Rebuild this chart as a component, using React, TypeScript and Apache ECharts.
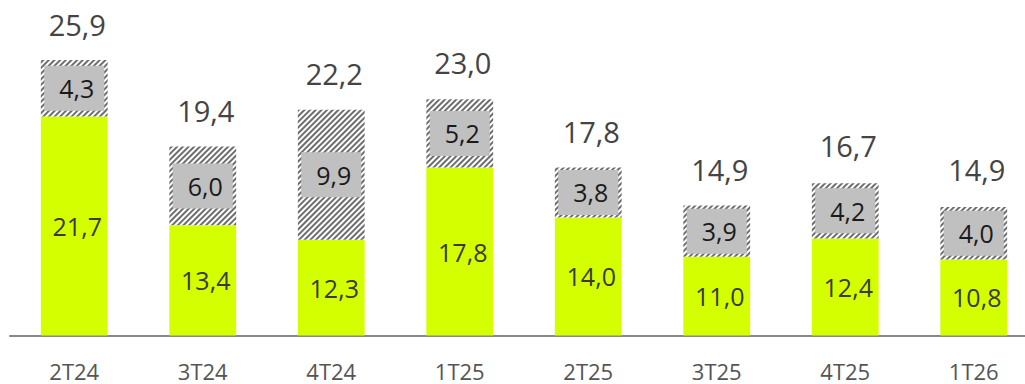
import React, { useEffect, useRef } from "react";
import * as echarts from "echarts";

const categories = ["2T24", "3T24", "4T24", "1T25", "2T25", "3T25", "4T25", "1T26"];
const baseValues = [21.7, 13.4, 12.3, 17.8, 14.0, 11.0, 12.4, 10.8];
const hatchValues = [4.3, 6.0, 9.9, 5.2, 3.8, 3.9, 4.2, 4.0];
const totalValues = [25.9, 19.4, 22.2, 23.0, 17.8, 14.9, 16.7, 14.9];

const fmt = (v: number) => v.toFixed(1).replace(".", ",");
const FONT = "'Open Sans', 'DejaVu Sans', sans-serif";

export default function App() {
  const ref = useRef<HTMLDivElement>(null);
  useEffect(() => {
    if (!ref.current) return;
    document.documentElement.style.overflow = "hidden";
    document.body.style.overflow = "hidden";
    const chart = echarts.init(ref.current, null, { renderer: "svg" });
    chart.setOption({
      animation: false,
      grid: { left: 10, right: 0, top: 7.5, bottom: 48.5 },
      xAxis: {
        type: "category",
        data: categories,
        axisTick: { show: false },
        axisLine: { lineStyle: { color: "#888888", width: 2 } },
        axisLabel: { color: "#555555", fontSize: 22, fontFamily: FONT, margin: 24 },
      },
      yAxis: {
        type: "value",
        min: 5,
        max: 30,
        show: false,
        splitLine: { show: false },
      },
      series: [
        {
          type: "bar",
          stack: "s",
          barWidth: "52%",
          barGap: "-100%",
          data: baseValues,
          itemStyle: { color: "#d4ff00" },
          label: {
            show: true,
            position: "inside",
            formatter: (p: any) => fmt(p.value),
            color: "#3a3a3a",
            fontSize: 25,
            fontFamily: FONT,
            offset: [3, 0],
          },
        },
        {
          type: "bar",
          stack: "s",
          barWidth: "52%",
          barGap: "-100%",
          data: hatchValues,
          itemStyle: {
            color: "#ffffff",
            decal: {
              symbol: "rect",
              symbolSize: 1,
              dashArrayX: [1, 0],
              dashArrayY: [2, 2],
              rotation: -Math.PI / 4,
              color: "#6e6e6e",
            },
          },
          label: {
            show: true,
            position: "inside",
            formatter: (p: any) => fmt(p.value),
            color: "#1a1a1a",
            fontSize: 25,
            fontFamily: FONT,
            backgroundColor: "#c0c0c0",
            width: 55,
            height: 45,
            lineHeight: 45,
            padding: [0, 0, 0, 5],
            align: "center",
            verticalAlign: "middle",
          },
        },
        {
          type: "bar",
          barWidth: "52%",
          barGap: "-100%",
          data: totalValues,
          silent: true,
          itemStyle: { color: "rgba(0,0,0,0)" },
          z: 0,
          label: {
            show: true,
            position: "top",
            distance: 22,
            formatter: (p: any) => fmt(p.value),
            color: "#444444",
            fontSize: 29,
            fontFamily: FONT,
            offset: [3, 0],
          },
        },
      ],
    });
    return () => chart.dispose();
  }, []);
  return (
    <div
      ref={ref}
      style={{ position: "fixed", left: 0, top: 0, width: 1038, height: 384, background: "#ffffff" }}
    />
  );
}
